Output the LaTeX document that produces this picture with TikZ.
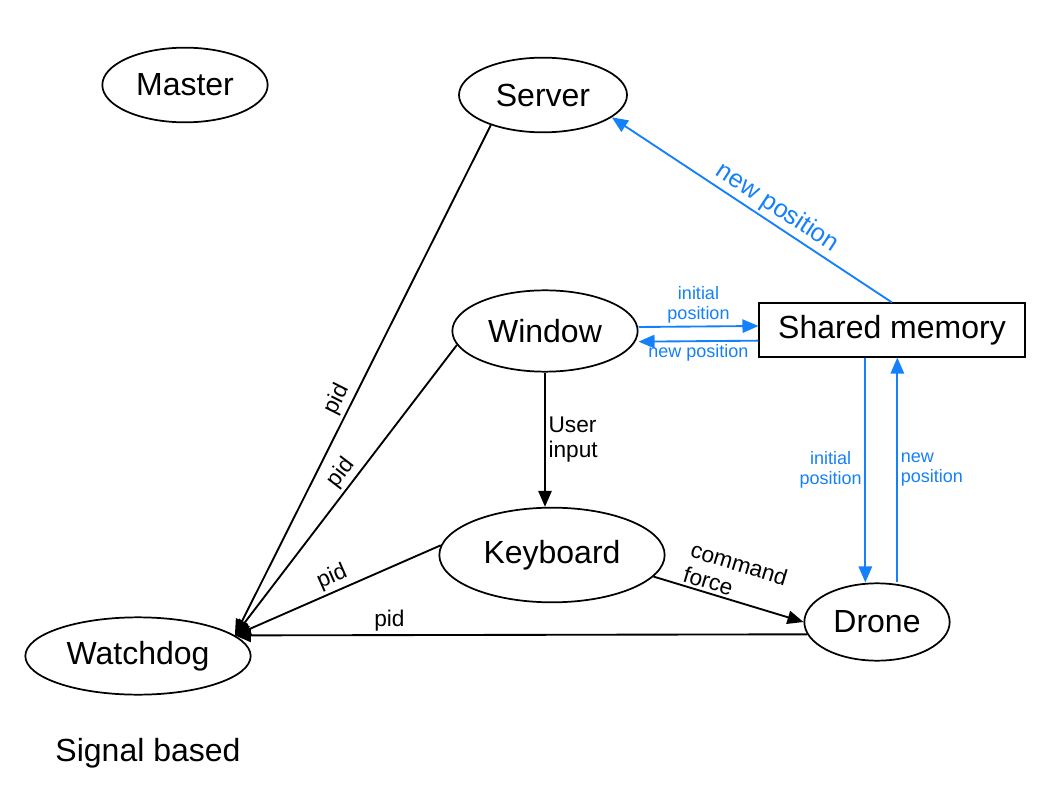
\documentclass[tikz,border=0pt]{standalone}
\usepackage{fontspec}
\setmainfont{Liberation Sans}
\usetikzlibrary{arrows.meta, shapes.geometric}
\definecolor{memblue}{RGB}{20,128,250}

\begin{document}
\begin{tikzpicture}[
        x=0.75pt, y=-0.75pt,
        proc/.style={draw, ellipse, line width=1.3pt, inner sep=0pt, font=\fontsize{24}{28}\selectfont},
        ar/.style={-{Triangle[length=12pt, width=10pt]}, line width=1.4pt},
        bl/.style={ar, color=memblue},
        lbl/.style={font=\fontsize{17}{19}\selectfont, inner sep=2pt},
        blbl/.style={font=\fontsize{13.5}{15}\selectfont, text=memblue, align=center, inner sep=2pt},
    ]
    \useasboundingbox (0,0) rectangle (1060,805);

    \node[proc, minimum width=124pt, minimum height=56pt](mst) at (185,85) {Master};
    \node[proc, minimum width=126pt, minimum height=56pt](srv) at (543,95) {Server};
    \node[proc, minimum width=139pt, minimum height=61pt](win) at (545,331) {Window};
    \node[draw, line width=1.3pt, minimum width=199pt, minimum height=40pt, font=\fontsize{24}{28}\selectfont](shm) at (892,330) {Shared memory};
    \node[proc, minimum width=169pt, minimum height=71pt](kbd) at (552,555) {Keyboard};
    \node[proc, minimum width=109pt, minimum height=58pt](drn) at (877,622) {Drone};
    \node[proc, minimum width=169pt, minimum height=58pt](wd) at (138,656) {Watchdog};
    \node[font=\fontsize{24}{28}\selectfont](sig) at (148,753) {Signal based};

    \path[ar]
    (srv.210) edge node[lbl, sloped, above, pos=0.55] {pid} (wd.12)
    (win.189) edge node[lbl, sloped, above, pos=0.47] {pid} (wd.12)
    (kbd.175) edge node[lbl, sloped, above, pos=0.5] {pid} (wd.12)
    (drn.190) edge node[lbl, above, pos=0.73] {pid} (wd.12)

    (win.south) edge node[lbl, right, align=left] {User\\input} (win.south |- kbd.north)
    (kbd.-12) edge node[lbl, sloped, above, align=left] {command\\force} (drn.west)
    ;

    \path[bl]
    (shm.north) edge node[lbl, text=memblue, sloped, above, pos=0.44, font=\fontsize{19}{21}\selectfont] {new position} (srv.-18)
    ([yshift=3pt]win.east) edge node[blbl, above] {initial\\position} ([yshift=3pt]shm.west)
    ([yshift=-8pt]shm.west) edge node[blbl, below] {new position} ([yshift=-8pt]win.east)
    ([xshift=-20pt]shm.south) edge node[blbl, left] {initial\\position} ([xshift=-20pt]shm.south |- drn.north)
    ([xshift=4pt]shm.south |- drn.north) edge node[blbl, right, align=left] {new\\position} ([xshift=4pt]shm.south)
    ;
    \end{tikzpicture}
\end{document}
